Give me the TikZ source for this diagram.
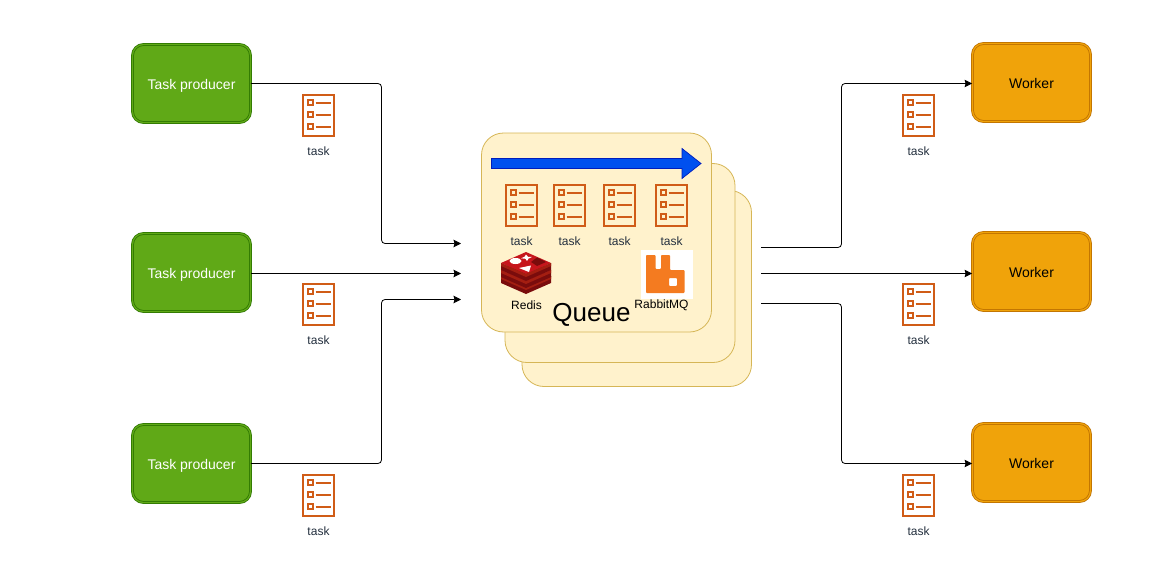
\documentclass[tikz,border=0pt]{standalone}
\usepackage{fontspec}
\setmainfont{Liberation Sans}
\usetikzlibrary{arrows.meta}
\definecolor{grfill}{HTML}{60A917}
\definecolor{grline}{HTML}{2D7600}
\definecolor{orfill}{HTML}{F0A30A}
\definecolor{orline}{HTML}{BD7000}
\definecolor{qfill}{HTML}{FFF2CC}
\definecolor{qline}{HTML}{D6B656}
\definecolor{blfill}{HTML}{0050EF}
\definecolor{blline}{HTML}{001DBC}
\definecolor{icon}{HTML}{D05C17}
\definecolor{tasktext}{HTML}{232F3E}
\definecolor{rabbit}{HTML}{F47B20}
\definecolor{redisA}{HTML}{A41E11}
\definecolor{redisB}{HTML}{C6161C}
\definecolor{redisC}{HTML}{7A0C0C}
\tikzset{
  x=1pt,y=-1pt,
  boxbase/.style={rounded corners=11pt,minimum width=118pt,minimum height=78pt,inner sep=0pt,double distance=1.2pt,line width=0.8pt,font=\fontsize{14}{16}\selectfont,text height=13pt,text depth=1pt},
  producer/.style={boxbase,draw=grline,double=grfill,fill=grfill,text=white},
  worker/.style={boxbase,draw=orline,double=orfill,fill=orfill,text=black},
  qcard/.style={draw=qline,fill=qfill,line width=0.8pt,rounded corners=22pt,inner sep=0pt},
  tasklabel/.style={text=tasktext,font=\fontsize{12}{14}\selectfont,inner sep=0pt},
  logolabel/.style={text=black,font=\fontsize{12}{14}\selectfont,inner sep=0pt},
  conn/.style={draw=black,line width=0.8pt,rounded corners=3.5pt,-{Stealth[length=7.5pt,width=7.5pt,inset=1pt]}},
  iconline/.style={draw=icon,line width=2pt},
}
\newcommand{\taskicon}[3]{%
  \begin{scope}[shift={(#2,#3)}]
    \node[draw=icon,line width=2pt,minimum width=31pt,minimum height=41pt,inner sep=0pt] (#1) at (16.5,21.5) {};
    \draw[iconline,line width=1.7pt] (6,6) rectangle (11,11);
    \draw[iconline,line width=1.7pt] (6,18) rectangle (11,23);
    \draw[iconline,line width=1.7pt] (6,30) rectangle (11,35);
    \draw[iconline] (13.5,8.5) -- (29,8.5);
    \draw[iconline] (13.5,20.5) -- (29,20.5);
    \draw[iconline] (13.5,32.5) -- (29,32.5);
    \node[tasklabel] (#1l) at (16.5,57) {task};
  \end{scope}}
\newcommand{\redislayer}[1]{%
  \fill[redisC] (501,#1+11) -- (526,#1+22) -- (551,#1+11) -- (551,#1+18) -- (526,#1+29) -- (501,#1+18) -- cycle;
  \fill[redisB] (501,#1+11) -- (526,#1) -- (551,#1+11) -- (526,#1+22) -- cycle;
  \fill[redisA] (501,#1+11) -- (526,#1+22) -- (526,#1+25) -- (501,#1+14) -- cycle;
  \fill[redisA] (551,#1+11) -- (526,#1+22) -- (526,#1+25) -- (551,#1+14) -- cycle;}
\begin{document}
\begin{tikzpicture}
\useasboundingbox (0,0) rectangle (1171,570);
\fill[white] (0,0) rectangle (1171,570);

% queue cards
\node[qcard,minimum width=229.5pt,minimum height=196pt] (qc) at (636.75,288.5) {};
\node[qcard,minimum width=230pt,minimum height=199pt] (qb) at (620,263) {};
\node[qcard,minimum width=230pt,minimum height=199pt] (qa) at (596.5,232.5) {};

% flow arrow
\draw[draw=blline,fill=blfill,line width=0.7pt] (491.5,158.5) -- (682,158.5) -- (682,148.5) -- (701,163.5) -- (682,178.5) -- (682,168.5) -- (491.5,168.5) -- cycle;

% queue content
\taskicon{qt1}{505}{184}
\taskicon{qt2}{553}{184}
\taskicon{qt3}{603}{184}
\taskicon{qt4}{655}{184}

% Redis logo
\redislayer{265}
\redislayer{259}
\redislayer{252}
\fill[white] (515.5,261) ellipse (6pt and 3pt);
\fill[white] (526,254.5) -- (528,256.8) -- (532,257) -- (528.5,258.6) -- (527,261) -- (525.5,258.8) -- (521,258.3) -- (524.5,256.8) -- cycle;
\fill[redisC] (537,257.5) -- (546,262) -- (537,266) -- (531,262) -- cycle;
\fill[white] (519,268) -- (531,265.5) -- (529,272) -- cycle;
\node[logolabel] (redis) at (526.5,305) {Redis};

% RabbitMQ logo
\fill[white] (641,250) rectangle (693,299);
\fill[rabbit,even odd rule,rounded corners=0.8pt] (646,255) -- (655.5,255) -- (655.5,269) -- (661,269) -- (661,255) -- (670,255) -- (670,270) -- (684.5,270) -- (684.5,293) -- (646,293) -- cycle
  (669,278) -- (677,278) -- (677,286) -- (669,286) -- cycle;
\node[logolabel] (rabbitmq) at (661.5,305) {RabbitMQ};

\node[inner sep=0pt,font=\fontsize{26}{30}\selectfont] (queue) at (591.5,315) {Queue};

% producers
\node[producer] (p1) at (191.5,83.5) {Task producer};
\node[producer] (p2) at (191.5,272.5) {Task producer};
\node[producer] (p3) at (191.5,463.5) {Task producer};
% workers
\node[worker] (w1) at (1031.5,82.5) {Worker};
\node[worker] (w2) at (1031.5,271.5) {Worker};
\node[worker] (w3) at (1031.5,462.5) {Worker};

% free connector ends
\coordinate (in1) at (461,243.5);
\coordinate (in2) at (461,273.5);
\coordinate (in3) at (461,299.5);
\coordinate (out1) at (761,247.5);
\coordinate (out2) at (761,273.5);
\coordinate (out3) at (761,303.5);

% connectors
\draw[conn] (p1.east |- 0,83.5) -- (381.5,83.5) -- (381.5,243.5) -- (in1);
\draw[conn] (p2.east |- in2) -- (in2);
\draw[conn] (p3.east |- 0,463.5) -- (381.5,463.5) -- (381.5,299.5) -- (in3);
\draw[conn] (out1) -- (841.5,247.5) -- (841.5,83.5) -- (w1.west |- 0,83.5);
\draw[conn] (out2) -- (w2.west |- out2);
\draw[conn] (out3) -- (841.5,303.5) -- (841.5,463.5) -- (w3.west |- 0,463.5);

% task icons
\taskicon{tp1}{302}{94}
\taskicon{tp2}{302}{283}
\taskicon{tp3}{302}{474}
\taskicon{tw1}{902}{94}
\taskicon{tw2}{902}{283}
\taskicon{tw3}{902}{474}
\end{tikzpicture}
\end{document}
